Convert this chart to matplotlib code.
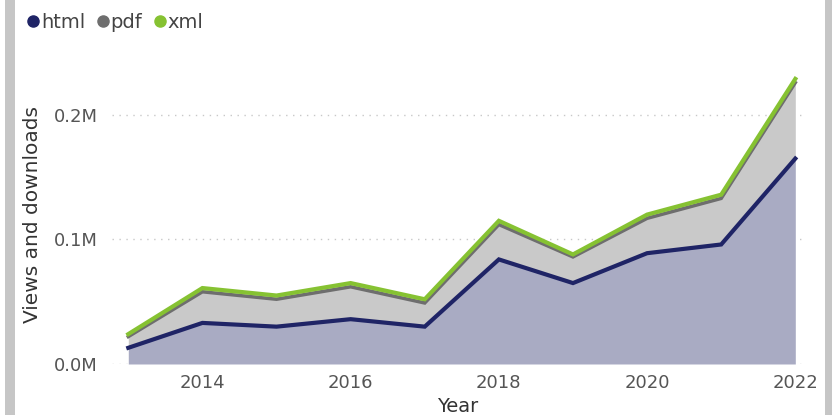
import matplotlib
matplotlib.use("Agg")
import matplotlib.pyplot as plt
from matplotlib import patches
from matplotlib.lines import Line2D

YEARS = [2013, 2014, 2015, 2016, 2017, 2018, 2019, 2020, 2021, 2022]
HTML = [13000, 33000, 30000, 36000, 30000, 84000, 65000, 89000, 96000, 165000]
PDF = [9000, 25000, 22000, 26000, 19000, 28000, 21000, 28000, 37000, 61000]
XML = [2000, 3000, 3000, 3000, 3000, 3000, 2000, 3000, 3000, 3000]
SERIES = ["html", "pdf", "xml"]
Y_TICKS = [0, 100000, 200000]
Y_TICK_LABELS = ["0.0M", "0.1M", "0.2M"]
X_TICKS = [2014, 2016, 2018, 2020, 2022]

LINE_COLORS = {"html": "#1f2466", "pdf": "#6e6e6e", "xml": "#86c232"}
FILL_COLORS = {"html": "#a9abc3", "pdf": "#c9c9c9", "xml": "#cfe6b0"}
TICK_COLOR = "#555555"
LABEL_COLOR = "#333333"
FONT = 13

fig = plt.figure(figsize=(8.32, 4.15), dpi=100, facecolor="white")
ax = fig.add_axes([0.1346, 0.1229, 0.8311, 0.72])

cum_html = HTML
cum_pdf = [h + p for h, p in zip(HTML, PDF)]
cum_xml = [c + x for c, x in zip(cum_pdf, XML)]

ax.fill_between(YEARS, 0, cum_html, color=FILL_COLORS["html"], lw=0, zorder=2)
ax.fill_between(YEARS, cum_html, cum_pdf, color=FILL_COLORS["pdf"], lw=0, zorder=2)
ax.fill_between(YEARS, cum_pdf, cum_xml, color=FILL_COLORS["xml"], lw=0, zorder=2)
ax.plot(YEARS, cum_html, color=LINE_COLORS["html"], lw=3, solid_joinstyle="miter", zorder=4)
ax.plot(YEARS, cum_pdf, color=LINE_COLORS["pdf"], lw=2.5, solid_joinstyle="miter", zorder=4)
ax.plot(YEARS, cum_xml, color=LINE_COLORS["xml"], lw=3, solid_joinstyle="miter", zorder=5)

ax.set_xlim(2012.78, 2022.11)
ax.set_ylim(0, 240000)
ax.set_yticks(Y_TICKS)
ax.set_yticklabels(Y_TICK_LABELS)
ax.set_xticks(X_TICKS)
ax.grid(axis="y", color="#c8c8c8", linestyle=(0, (1, 4)), lw=1, zorder=1)
ax.tick_params(axis="both", length=0, labelsize=FONT, colors=TICK_COLOR)
ax.tick_params(axis="x", pad=7)
ax.tick_params(axis="y", pad=10)
for side in ["top", "right", "left", "bottom"]:
    ax.spines[side].set_visible(False)

ax.set_xlabel("Year", fontsize=14, color=LABEL_COLOR, labelpad=4)
ax.set_ylabel("Views and downloads", fontsize=14.5, color=LABEL_COLOR, labelpad=9)

handles = [
    Line2D([], [], marker="o", ls="", markersize=8, color=LINE_COLORS[name])
    for name in SERIES
]
leg = fig.legend(
    handles, SERIES, loc="upper left", bbox_to_anchor=(0.005, 1.012), ncol=3,
    frameon=False, fontsize=14, handletextpad=-0.2, columnspacing=0.3,
    handlelength=1.2,
)
for text in leg.get_texts():
    text.set_color("#444444")

# grey side bars
fig.add_artist(patches.Rectangle((5 / 832, 0), 10 / 832, 1, transform=fig.transFigure,
                                 color="#c6c6c6", lw=0))
fig.add_artist(patches.Rectangle((825 / 832, 0), 7 / 832, 1, transform=fig.transFigure,
                                 color="#c6c6c6", lw=0))

fig.savefig("out.png", dpi=100, facecolor="white")
